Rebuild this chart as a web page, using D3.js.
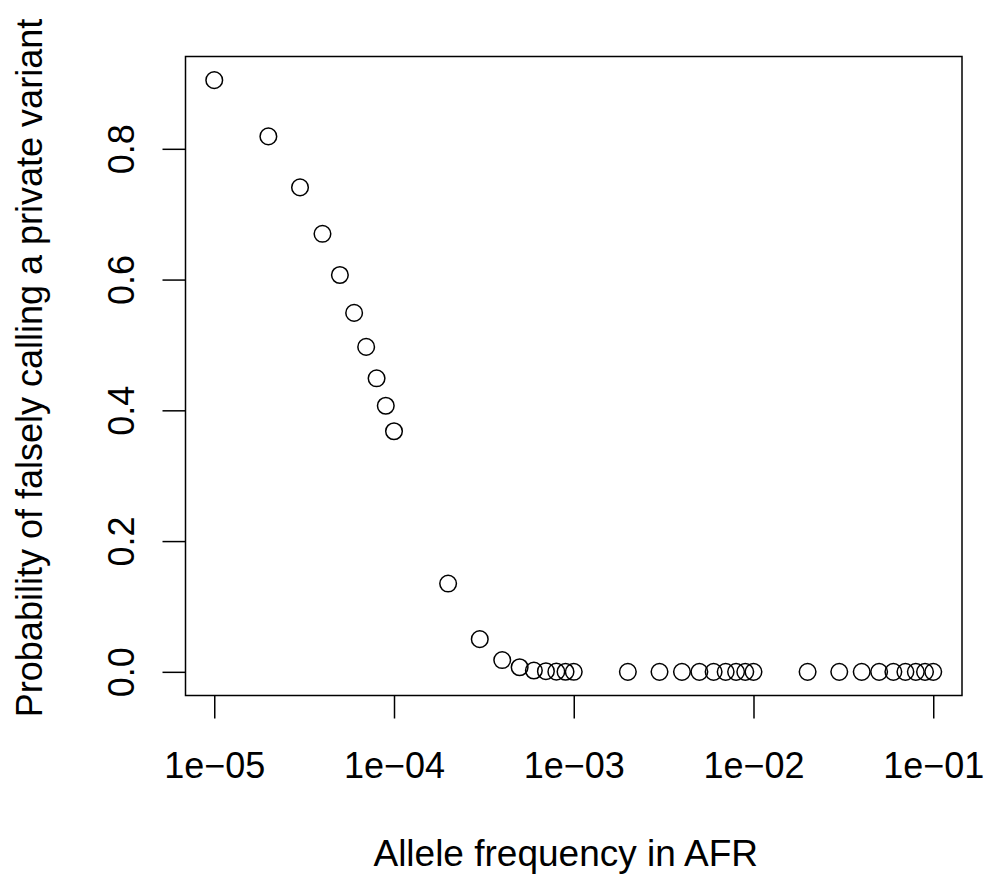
<!DOCTYPE html>
<html>
<head>
<meta charset="utf-8">
<script src="https://cdn.jsdelivr.net/npm/d3@7"></script>
<style>
  body { margin: 0; background: #fff; }
  text { font-family: "Liberation Sans", Arial, Helvetica, sans-serif; fill: #000; }
</style>
</head>
<body>
<div id="chart"></div>
<script>
// Allele frequencies (x) and probability of falsely calling a private variant (y)
const freqs = [
  1e-5, 2e-5, 3e-5, 4e-5, 5e-5, 6e-5, 7e-5, 8e-5, 9e-5, 1e-4,
  2e-4, 3e-4, 4e-4, 5e-4, 6e-4, 7e-4, 8e-4, 9e-4, 1e-3,
  2e-3, 3e-3, 4e-3, 5e-3, 6e-3, 7e-3, 8e-3, 9e-3, 1e-2,
  2e-2, 3e-2, 4e-2, 5e-2, 6e-2, 7e-2, 8e-2, 9e-2, 1e-1
];
const probs = [
  0.905, 0.819, 0.741, 0.670, 0.607, 0.549, 0.497, 0.449, 0.407, 0.368,
  0.135, 0.050, 0.018, 0.007, 0.002, 0.001, 0.0003, 0.0001, 0.00005,
  0, 0, 0, 0, 0, 0, 0, 0, 0,
  0, 0, 0, 0, 0, 0, 0, 0, 0
];
const xTicks = [1e-5, 1e-4, 1e-3, 1e-2, 1e-1];
const xTickLabels = ["1e\u221205", "1e\u221204", "1e\u221203", "1e\u221202", "1e\u221201"];
const yTicks = [0, 0.2, 0.4, 0.6, 0.8];
const yTickLabels = ["0.0", "0.2", "0.4", "0.6", "0.8"];

const width = 985, height = 880;
const box = { left: 185.5, right: 962, top: 56.5, bottom: 695.5 };

const svg = d3.select("#chart").append("svg")
    .attr("width", width)
    .attr("height", height);

// R-style 4% padding around the data range
const lx = [Math.log10(1e-5), Math.log10(1e-1)];
const padX = (lx[1] - lx[0]) * 0.04;
const x = d3.scaleLog()
    .domain([Math.pow(10, lx[0] - padX), Math.pow(10, lx[1] + padX)])
    .range([box.left, box.right]);

const yMax = d3.max(probs), yMin = 0;
const padY = (yMax - yMin) * 0.04;
const y = d3.scaleLinear()
    .domain([yMin - padY, yMax + padY])
    .range([box.bottom, box.top]);

const fontSize = 36;

// x axis
const xAxis = svg.append("g")
    .attr("transform", `translate(0,${box.bottom})`)
    .call(d3.axisBottom(x).tickValues(xTicks).tickSize(23).tickPadding(0)
      .tickFormat((d, i) => xTickLabels[i]));
xAxis.select(".domain").remove();
xAxis.selectAll("line").attr("stroke", "#000").attr("stroke-width", 1.5);
xAxis.selectAll("text")
    .attr("font-size", fontSize)
    .attr("font-family", "Liberation Sans, Arial, sans-serif")
    .attr("fill", "#000")
    .attr("dy", null)
    .attr("y", 82);

// y axis
const yAxis = svg.append("g")
    .attr("transform", `translate(${box.left},0)`)
    .call(d3.axisLeft(y).tickValues(yTicks).tickSize(23).tickPadding(0)
      .tickFormat((d, i) => yTickLabels[i]));
yAxis.select(".domain").remove();
yAxis.selectAll("line").attr("stroke", "#000").attr("stroke-width", 1.5);
yAxis.selectAll("text")
    .attr("font-size", fontSize)
    .attr("font-family", "Liberation Sans, Arial, sans-serif")
    .attr("fill", "#000")
    .attr("x", null).attr("dy", null)
    .attr("text-anchor", "middle")
    .attr("transform", "translate(-52,0) rotate(-90)");

// plot box
svg.append("rect")
    .attr("x", box.left).attr("y", box.top)
    .attr("width", box.right - box.left)
    .attr("height", box.bottom - box.top)
    .attr("fill", "none")
    .attr("stroke", "#000")
    .attr("stroke-width", 1.5);

// points
svg.append("g").selectAll("circle")
    .data(freqs.map((f, i) => ({ f, p: probs[i] })))
    .enter().append("circle")
    .attr("cx", d => x(d.f))
    .attr("cy", d => y(d.p))
    .attr("r", 8.3)
    .attr("fill", "none")
    .attr("stroke", "#000")
    .attr("stroke-width", 1.5);

// axis titles
svg.append("text")
    .attr("x", (box.left + box.right) / 2 - 8)
    .attr("y", 866)
    .attr("text-anchor", "middle")
    .attr("font-size", 37)
    .text("Allele frequency in AFR");

svg.append("text")
    .attr("transform", `translate(42,368) rotate(-90)`)
    .attr("text-anchor", "middle")
    .attr("font-size", 36)
    .text("Probability of falsely calling a private variant");
</script>
</body>
</html>
